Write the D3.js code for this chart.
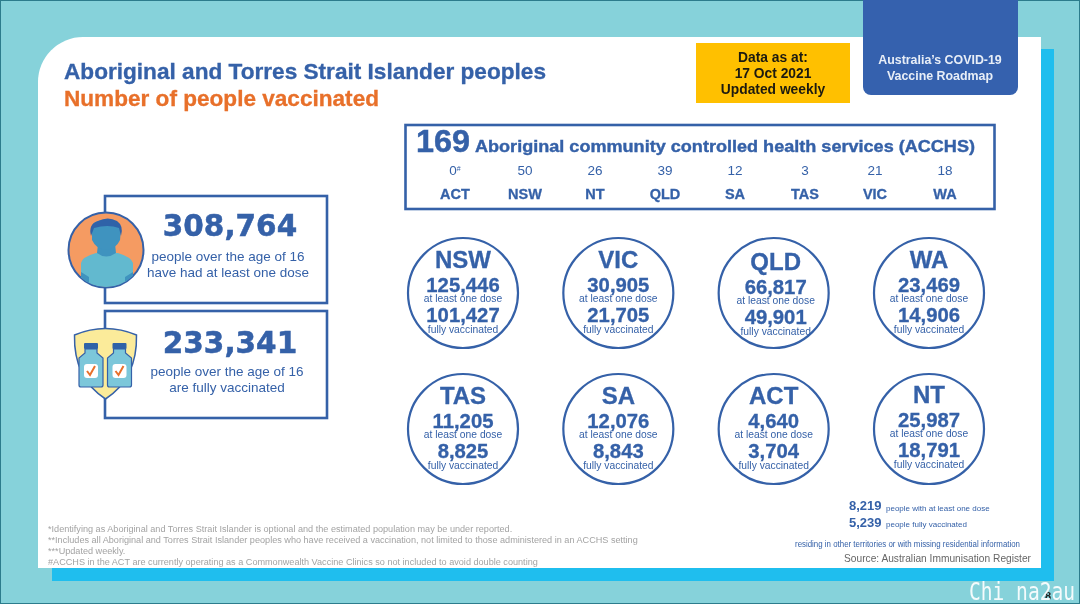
<!DOCTYPE html>
<html>
<head>
<meta charset="utf-8">
<script src="https://cdn.jsdelivr.net/npm/d3@7"></script>
<style>
html, body { margin: 0; padding: 0; background: #86d2da; }
svg { display: block; filter: blur(0.4px); }
text { font-family: "Liberation Sans", Arial, sans-serif; }
</style>
</head>
<body>
<svg id="slide" width="1080" height="604"></svg>
<script>
// values
const states = ["NSW", "VIC", "QLD", "WA", "TAS", "SA", "ACT", "NT"];
const atLeastOneDose = [125446, 30905, 66817, 23469, 11205, 12076, 4640, 25987];
const fullyVaccinated = [101427, 21705, 49901, 14906, 8825, 8843, 3704, 18791];

const acchsStates = ["ACT", "NSW", "NT", "QLD", "SA", "TAS", "VIC", "WA"];
const acchsCounts = [0, 50, 26, 39, 12, 3, 21, 18];
const acchsTotal = 169;

const totalOneDose = 308764;
const totalFully = 233341;
const otherOneDose = 8219;
const otherFully = 5239;

const footnotes = [
  "*Identifying as Aboriginal and Torres Strait Islander is optional and the estimated population may be under reported.",
  "**Includes all Aboriginal and Torres Strait Islander peoples who have received a vaccination, not limited to those administered in an ACCHS setting",
  "***Updated weekly.",
  "#ACCHS in the ACT are currently operating as a Commonwealth Vaccine Clinics so not included to avoid double counting"
];

const BLUE = "#3561a8";
const fmt = d3.format(",");
const svg = d3.select("#slide");

function label(g, x, y, str, size, fill, opts) {
  const o = opts || {};
  const t = g.append("text").attr("x", x).attr("y", y).text(str)
    .attr("font-size", size).attr("fill", fill)
    .attr("text-anchor", o.anchor || "start")
    .attr("font-weight", o.bold ? "bold" : "normal");
  if (o.family) t.style("font-family", o.family);
  if (o.len) t.attr("textLength", o.len).attr("lengthAdjust", "spacingAndGlyphs");
  if (o.heavy) t.attr("stroke", fill).attr("stroke-width", o.heavy);
  return t;
}

// background
svg.append("rect").attr("width", 1080).attr("height", 604).attr("fill", "#86d2da");
svg.append("rect").attr("x", 0.5).attr("y", 0.5).attr("width", 1079).attr("height", 603)
  .attr("fill", "none").attr("stroke", "#2c7c8c").attr("stroke-width", 1);
svg.append("rect").attr("x", 52).attr("y", 49).attr("width", 1002).attr("height", 532).attr("fill", "#1fbeee");
svg.append("path").attr("fill", "#fff")
  .attr("d", "M38,568V82A45,45 0 0 1 83,37H1041V568Z");

// roadmap tab and date box
svg.append("path").attr("fill", "#3561ae")
  .attr("d", "M863,0H1018V87A8,8 0 0 1 1010,95H871A8,8 0 0 1 863,87Z");
const tab = svg.append("g");
label(tab, 940, 64, "Australia\u2019s COVID-19", 12.4, "#e8eef7", { anchor: "middle", bold: true });
label(tab, 940, 80, "Vaccine Roadmap", 12.4, "#e8eef7", { anchor: "middle", bold: true });

svg.append("rect").attr("x", 696).attr("y", 43).attr("width", 154).attr("height", 60).attr("fill", "#ffc000");
const dateBox = svg.append("g");
["Data as at:", "17 Oct 2021", "Updated weekly"].forEach((s, i) => {
  label(dateBox, 773, 62 + i * 16, s, 13.8, "#1c1a10", { anchor: "middle", bold: true });
});

// title
label(svg, 64, 79, "Aboriginal and Torres Strait Islander peoples", 21.5, BLUE, { bold: true, len: 482, heavy: 0.3 });
label(svg, 64, 106, "Number of people vaccinated", 21.5, "#e8702a", { bold: true, len: 315, heavy: 0.3 });

// ACCHS box
svg.append("rect").attr("x", 405.5).attr("y", 125).attr("width", 589).attr("height", 84)
  .attr("fill", "#fff").attr("stroke", BLUE).attr("stroke-width", 2.6);
label(svg, 416, 152, acchsTotal, 31, BLUE, { bold: true, len: 54, heavy: 0.5 });
label(svg, 475, 152, "Aboriginal community controlled health services (ACCHS)", 17, BLUE, { bold: true, len: 500, heavy: 0.4 });

const xAcchs = d3.scalePoint().domain(acchsStates).range([455, 945]);
const acchs = svg.append("g").selectAll("g").data(acchsStates).join("g")
  .attr("transform", d => `translate(${xAcchs(d)},0)`);
acchs.append("text").attr("y", 175).attr("text-anchor", "middle").attr("font-size", 13.5)
  .attr("fill", BLUE).text((d, i) => acchsCounts[i])
  .filter(d => d === "ACT").append("tspan").attr("font-size", 7).attr("dy", -4).text("#");
acchs.append("text").attr("y", 199).attr("text-anchor", "middle").attr("font-size", 14.5)
  .attr("font-weight", "bold").attr("fill", BLUE).attr("stroke", BLUE).attr("stroke-width", 0.3).text(d => d);

// left summary boxes
const wide = "'DejaVu Sans', sans-serif";
const summary = [
  { y: 196, cx: 228, numY: 236, total: totalOneDose, lines: ["people over the age of 16", "have had at least one dose"] },
  { y: 311, cx: 227, numY: 353, total: totalFully, lines: ["people over the age of 16", "are fully vaccinated"] }
];
summary.forEach(s => {
  svg.append("rect").attr("x", 105).attr("y", s.y).attr("width", 222).attr("height", 107)
    .attr("fill", "#fff").attr("stroke", BLUE).attr("stroke-width", 2.6);
  label(svg, 230, s.numY, fmt(s.total), 29.5, BLUE, { anchor: "middle", bold: true, family: wide, heavy: 0.5 });
  s.lines.forEach((l, i) => {
    label(svg, s.cx, s.y + 65 + i * 15.5, l, 13.5, BLUE, { anchor: "middle" });
  });
});

// person icon
const person = svg.append("g").attr("transform", "translate(106,250)");
person.append("circle").attr("r", 37.5).attr("fill", "#f59b62").attr("stroke", BLUE).attr("stroke-width", 2);
person.append("clipPath").attr("id", "personClip").append("circle").attr("r", 37);
const body = person.append("g").attr("clip-path", "url(#personClip)");
body.append("path").attr("fill", "#62b9cf")
  .attr("d", "M-25,40 L-25,13 Q-24,7 -10,3 L12,3 Q25,7 27,13 L27,40Z");
body.append("path").attr("fill", "#3f93bf").attr("d", "M-25,40 L-25,22 L-17,27 L-17,40Z M27,40 L27,22 L19,27 L19,40Z");
person.append("path").attr("fill", "#3f93bf")
  .attr("d", "M-8,-6 L9,-6 L10,3 Q0,10 -9,3Z");
person.append("path").attr("fill", "#3f93bf")
  .attr("d", "M-14,-22 Q-14,-30 0,-30 Q15,-30 15,-20 L14,-10 Q10,-1 0,0 Q-10,-1 -14,-10Z");
person.append("path").attr("fill", "#2f62a8")
  .attr("d", "M-15,-14 Q-18,-26 -8,-29 Q2,-34 11,-29 Q18,-24 15,-14 L13,-22 Q2,-26 -12,-22Z");

// shield and vials
const shield = svg.append("g").attr("transform", "translate(105.5,0)");
shield.append("path").attr("fill", "#fbeb9a").attr("stroke", BLUE).attr("stroke-width", 1.5)
  .attr("d", "M-31,335 Q0,322 31,335 Q32,378 0,399 Q-32,378 -31,335Z");
[-14.5, 14].forEach(dx => {
  const v = shield.append("g").attr("transform", `translate(${dx},0)`);
  v.append("rect").attr("x", -7).attr("y", 343).attr("width", 14).attr("height", 6).attr("rx", 1).attr("fill", "#2f62a8");
  v.append("path").attr("fill", "#7cc7da").attr("stroke", BLUE).attr("stroke-width", 1.2)
    .attr("d", "M-6,349H6V353L12,358V385Q12,387 10,387H-10Q-12,387 -12,385V358L-6,353Z");
  v.append("rect").attr("x", -7).attr("y", 364).attr("width", 14).attr("height", 14).attr("rx", 3).attr("fill", "#fff");
  v.append("path").attr("fill", "none").attr("stroke", "#e8702a").attr("stroke-width", 2)
    .attr("d", "M-4,371L-1,375L4,366");
});

// state circles
const xCircle = d3.scalePoint().domain([0, 1, 2, 3]).range([463, 929]);
const yCircle = d3.scalePoint().domain([0, 1]).range([293, 429]);
const nudge = { QLD: [2, 2], NT: [0, -1] };

const cells = svg.append("g").selectAll("g").data(states).join("g")
  .attr("transform", (d, i) => `translate(${xCircle(i % 4)},${yCircle(Math.floor(i / 4))})`);
cells.append("circle").attr("r", 55).attr("fill", "#fff").attr("stroke", BLUE).attr("stroke-width", 2.2);

const inner = cells.append("g")
  .attr("transform", d => { const n = nudge[d] || [0, 0]; return `translate(${n[0]},${n[1]})`; });
function cellText(y, size, bold, fn) {
  const t = inner.append("text").attr("y", y).attr("text-anchor", "middle").attr("font-size", size)
    .attr("font-weight", bold ? "bold" : "normal").attr("fill", BLUE).text(fn);
  if (bold) t.attr("stroke", BLUE).attr("stroke-width", 0.3);
}
cellText(-25, 24, true, d => d);
cellText(-1, 20.3, true, (d, i) => fmt(atLeastOneDose[i]));
cellText(9, 10.3, false, () => "at least one dose");
cellText(29, 20.3, true, (d, i) => fmt(fullyVaccinated[i]));
cellText(40, 10.3, false, () => "fully vaccinated");

// other territories note
label(svg, 849, 510, fmt(otherOneDose), 13, BLUE, { bold: true });
label(svg, 886, 511, "people with at least one dose", 8, BLUE);
label(svg, 849, 527, fmt(otherFully), 13, BLUE, { bold: true });
label(svg, 886, 527, "people fully vaccinated", 8, BLUE);
label(svg, 795, 547, "residing in other territories or with missing residential information", 8.2, BLUE, { len: 225 });
label(svg, 844, 562, "Source: Australian Immunisation Register", 10.6, "#666", { len: 187 });

// footnotes
const footBase = [532, 543, 554, 565];
footnotes.forEach((f, i) => {
  label(svg, 48, footBase[i], f, 9.12, "#a3a3a3");
});

// page number and watermark
label(svg, 1048, 600, "8", 11, "#222", { anchor: "middle", bold: true });
label(svg, 969, 600, "Chi na2au", 24, "#f4fbfc", { family: "'DejaVu Sans Mono', monospace", len: 106 });
</script>
</body>
</html>
